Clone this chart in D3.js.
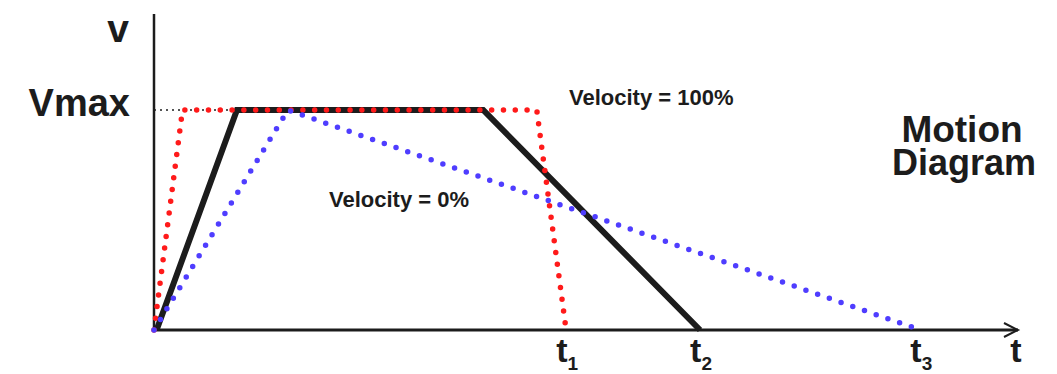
<!DOCTYPE html>
<html>
<head>
<meta charset="utf-8">
<script src="https://cdn.jsdelivr.net/npm/d3@7"></script>
<style>
  body { margin: 0; background: #fff; }
  svg { display: block; font-family: "Liberation Sans", Arial, sans-serif; font-weight: bold; }
</style>
</head>
<body>
<svg id="canvas" width="1057" height="374"></svg>
<script>
// time in arbitrary units, velocity in % of Vmax
let blackTimes = [0.03, 0.96, 3.81, 6.32];
let blackValues = [0, 100, 100, 0];

let redTimes = [0, 0.33, 4.43, 4.77];
let redValues = [0, 100, 100, 0];

let blueTimes = [0, 1.55, 8.87];
let blueValues = [0, 100, 0];

let tickNames = ['1', '2', '3'];
let tickTimes = [4.77, 6.32, 8.87];

let canvas = d3.select('#canvas');
let ink = '#1c1c1c';

let x = d3.scaleLinear().domain([0, 10]).range([154, 1018]);
let y = d3.scaleLinear().domain([0, 100]).range([330, 110]);

let toPoints = (times, values) => times.map((t, i) => [t, values[i]]);
let line = d3.line().x(d => x(d[0])).y(d => y(d[1]));

// axes
canvas.append('line')
  .attr('x1', x(0)).attr('x2', x(0))
  .attr('y1', y(0)).attr('y2', y(143.6))
  .attr('stroke', ink).attr('stroke-width', 2.5);

canvas.append('line')
  .attr('x1', x(0)).attr('x2', x(10))
  .attr('y1', y(0)).attr('y2', y(0))
  .attr('stroke', ink).attr('stroke-width', 3);

canvas.append('path')
  .attr('d', 'M' + (x(10) - 14) + ',' + (y(0) - 7) + 'L' + x(10) + ',' + y(0) + 'L' + (x(10) - 14) + ',' + (y(0) + 7))
  .attr('fill', 'none').attr('stroke', ink).attr('stroke-width', 2);

// Vmax guide
canvas.append('line')
  .attr('x1', x(0)).attr('x2', x(blackTimes[1]))
  .attr('y1', y(100)).attr('y2', y(100))
  .attr('stroke', ink).attr('stroke-width', 1.5)
  .attr('stroke-dasharray', '2 4');

// black profile
canvas.append('path')
  .attr('d', line(toPoints(blackTimes, blackValues)))
  .attr('fill', 'none').attr('stroke', ink)
  .attr('stroke-width', 6).attr('stroke-linejoin', 'miter');

// red profile
canvas.append('path')
  .attr('d', line(toPoints(redTimes, redValues)))
  .attr('fill', 'none').attr('stroke', '#ff1a1a')
  .attr('stroke-width', 5.5).attr('stroke-linecap', 'round')
  .attr('stroke-dasharray', '0 11.8');

// blue profile
canvas.append('path')
  .attr('d', line(toPoints(blueTimes, blueValues)))
  .attr('fill', 'none').attr('stroke', '#4f3dff')
  .attr('stroke-width', 5.5).attr('stroke-linecap', 'round')
  .attr('stroke-dasharray', '0 12.4');

// labels
canvas.append('text').text('v')
  .attr('x', 118).attr('y', 42).attr('text-anchor', 'middle')
  .attr('font-size', 39).attr('fill', ink);

canvas.append('text').text('Vmax')
  .attr('x', 130).attr('y', 116).attr('text-anchor', 'end')
  .attr('font-size', 38).attr('fill', ink);

canvas.append('text').text('Velocity = 100%')
  .attr('x', 569).attr('y', 105)
  .attr('font-size', 22).attr('fill', ink);

canvas.append('text').text('Velocity = 0%')
  .attr('x', 329).attr('y', 207)
  .attr('font-size', 22).attr('fill', ink);

canvas.append('text').text('Motion')
  .attr('x', 962).attr('y', 142).attr('text-anchor', 'middle')
  .attr('font-size', 37).attr('fill', ink);

canvas.append('text').text('Diagram')
  .attr('x', 964).attr('y', 175).attr('text-anchor', 'middle')
  .attr('font-size', 36).attr('fill', ink);

let ticks = canvas.selectAll('g.tick')
  .data(tickTimes)
  .enter()
  .append('g')
  .attr('class', 'tick')
  .attr('transform', d => 'translate(' + x(d) + ',0)');

ticks.append('text')
  .attr('x', -10).attr('y', 362)
  .attr('font-size', 34).attr('fill', ink)
  .text('t')
  .append('tspan')
  .attr('font-size', 19).attr('dy', 8)
  .text((d, i) => tickNames[i]);

canvas.append('text').text('t')
  .attr('x', 1016).attr('y', 362).attr('text-anchor', 'middle')
  .attr('font-size', 34).attr('fill', ink);
</script>
</body>
</html>
